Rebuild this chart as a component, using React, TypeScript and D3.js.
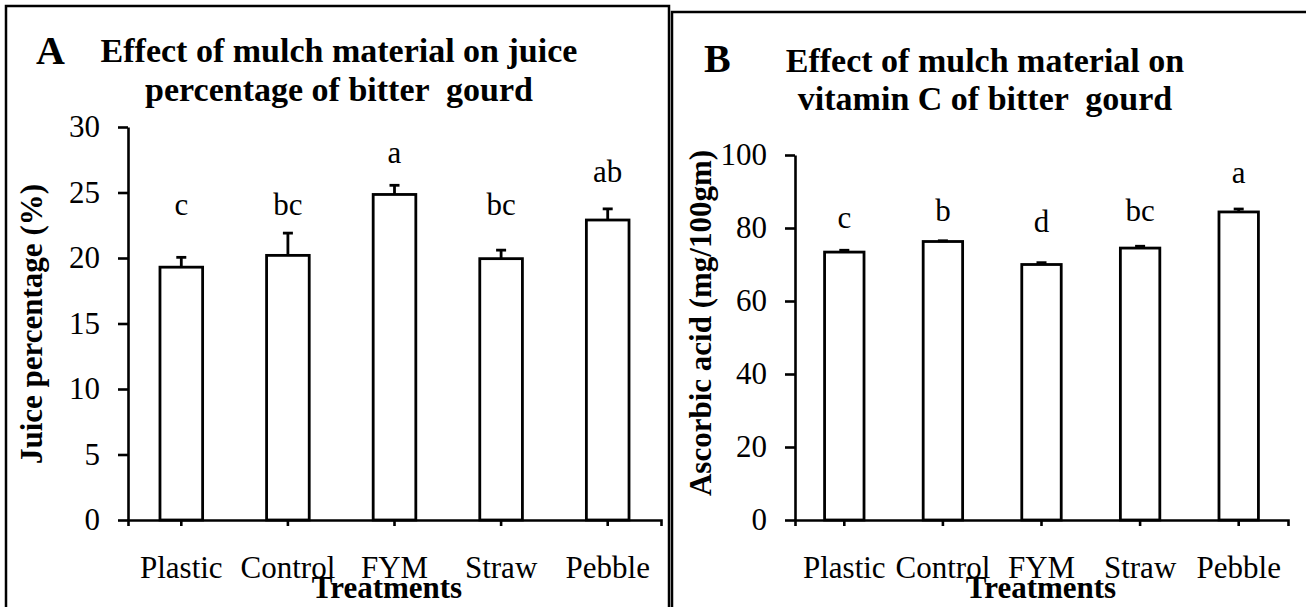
import React, { useEffect, useRef } from 'react';
import * as d3 from 'd3';

const categories = ['Plastic', 'Control', 'FYM', 'Straw', 'Pebble'];

// panel A: juice percentage
const juiceValues = [19.3, 20.2, 24.85, 19.95, 22.9];
const juiceErrors = [0.75, 1.7, 0.7, 0.65, 0.85];
const juiceLetters = ['c', 'bc', 'a', 'bc', 'ab'];
const juiceLetterAt = [23.3, 23.3, 27.25, 23.3, 25.8];
const juiceTicks = [0, 5, 10, 15, 20, 25, 30];

// panel B: vitamin C
const vitCValues = [73.4, 76.3, 70.0, 74.5, 84.4];
const vitCErrors = [0.5, 0.2, 0.5, 0.5, 0.8];
const vitCLetters = ['c', 'b', 'd', 'bc', 'a'];
const vitCLetterAt = [80, 81.8, 78.8, 82, 92.3];
const vitCTicks = [0, 20, 40, 60, 80, 100];

const serif = '"Liberation Serif", "Times New Roman", serif';

type Panel = {
  tag: string;
  tagX: number;
  tagY: number;
  title: [string, string];
  titleX: number;
  titleY: [number, number];
  yLabel: string;
  yLabelX: number;
  yLabelY: number;
  values: number[];
  errors: number[];
  letters: string[];
  letterAt: number[];
  ticks: number[];
  box: [number, number, number, number];
  plot: { left: number; right: number; top: number; bottom: number };
  xLabelX: number;
};

const panels: Panel[] = [
  {
    tag: 'A',
    tagX: 36,
    tagY: 64,
    title: ['Effect of mulch material on juice', 'percentage of bitter  gourd'],
    titleX: 339,
    titleY: [62, 101],
    yLabel: 'Juice percentage (%)',
    yLabelX: 42,
    yLabelY: 324,
    values: juiceValues,
    errors: juiceErrors,
    letters: juiceLetters,
    letterAt: juiceLetterAt,
    ticks: juiceTicks,
    box: [6, 6, 663, 640],
    plot: { left: 128, right: 661, top: 127, bottom: 520 },
    xLabelX: 387,
  },
  {
    tag: 'B',
    tagX: 704,
    tagY: 72,
    title: ['Effect of mulch material on', 'vitamin C of bitter  gourd'],
    titleX: 985,
    titleY: [72, 110],
    yLabel: 'Ascorbic acid (mg/100gm)',
    yLabelX: 711,
    yLabelY: 323,
    values: vitCValues,
    errors: vitCErrors,
    letters: vitCLetters,
    letterAt: vitCLetterAt,
    ticks: vitCTicks,
    box: [672, 12, 660, 640],
    plot: { left: 795, right: 1288, top: 155, bottom: 520 },
    xLabelX: 1041,
  },
];

const App: React.FC = () => {
  const ref = useRef<SVGSVGElement>(null);

  useEffect(() => {
    if (!ref.current) return;
    const svg = d3.select(ref.current);
    svg.selectAll('*').remove();

    panels.forEach(p => {
      const g = svg.append('g');
      const { left, right, top, bottom } = p.plot;

      g.append('rect')
        .attr('x', p.box[0])
        .attr('y', p.box[1])
        .attr('width', p.box[2])
        .attr('height', p.box[3])
        .attr('fill', 'none')
        .attr('stroke', '#000')
        .attr('stroke-width', 2.5);

      const x = d3
        .scaleBand<string>()
        .domain(categories)
        .range([left, right])
        .paddingInner(0.6)
        .paddingOuter(0.3);
      const y = d3
        .scaleLinear()
        .domain([0, d3.max(p.ticks) as number])
        .range([bottom, top]);

      // panel tag and title
      g.append('text')
        .attr('x', p.tagX)
        .attr('y', p.tagY)
        .attr('font-family', serif)
        .attr('font-weight', 'bold')
        .attr('font-size', 40)
        .text(p.tag);
      p.title.forEach((line, i) => {
        g.append('text')
          .attr('x', p.titleX)
          .attr('y', p.titleY[i])
          .attr('text-anchor', 'middle')
          .attr('font-family', serif)
          .attr('font-weight', 'bold')
          .attr('font-size', 34)
          .style('white-space', 'pre')
          .text(line);
      });

      // bars
      g.selectAll('rect.bar')
        .data(p.values)
        .enter()
        .append('rect')
        .attr('class', 'bar')
        .attr('x', (_, i) => x(categories[i]) as number)
        .attr('y', d => y(d))
        .attr('width', x.bandwidth())
        .attr('height', d => bottom - y(d))
        .attr('fill', '#fff')
        .attr('stroke', '#000')
        .attr('stroke-width', 2.8);

      // error bars (upper only)
      const cx = (i: number) => (x(categories[i]) as number) + x.bandwidth() / 2;
      p.values.forEach((v, i) => {
        const e = p.errors[i];
        g.append('line')
          .attr('x1', cx(i))
          .attr('x2', cx(i))
          .attr('y1', y(v))
          .attr('y2', y(v + e))
          .attr('stroke', '#000')
          .attr('stroke-width', 2.8);
        g.append('line')
          .attr('x1', cx(i) - 5)
          .attr('x2', cx(i) + 5)
          .attr('y1', y(v + e))
          .attr('y2', y(v + e))
          .attr('stroke', '#000')
          .attr('stroke-width', 2.8);
      });

      // significance letters
      g.selectAll('text.letter')
        .data(p.letters)
        .enter()
        .append('text')
        .attr('class', 'letter')
        .attr('x', (_, i) => cx(i))
        .attr('y', (_, i) => y(p.letterAt[i]))
        .attr('text-anchor', 'middle')
        .attr('font-family', serif)
        .attr('font-size', 31)
        .text(d => d);

      // y axis
      const yAxis = g
        .append('g')
        .attr('transform', `translate(${left},0)`)
        .call(
          d3
            .axisLeft(y)
            .tickValues(p.ticks)
            .tickSize(10)
            .tickSizeOuter(0)
            .tickPadding(18)
            .tickFormat(d => String(d)),
        );
      yAxis.selectAll('path, line').attr('stroke-width', 2.6);
      yAxis
        .selectAll('text')
        .attr('font-family', serif)
        .attr('font-size', 31)
        .attr('fill', '#000');

      // x axis
      const xAxis = g
        .append('g')
        .attr('transform', `translate(0,${bottom})`)
        .call(d3.axisBottom(x).tickSize(6).tickSizeOuter(6).tickPadding(30));
      xAxis.selectAll('path, line').attr('stroke-width', 2.6);
      xAxis
        .selectAll('text')
        .attr('font-family', serif)
        .attr('font-size', 31)
        .attr('fill', '#000');

      // axis titles
      g.append('text')
        .attr('transform', `translate(${p.yLabelX},${p.yLabelY}) rotate(-90)`)
        .attr('text-anchor', 'middle')
        .attr('font-family', serif)
        .attr('font-weight', 'bold')
        .attr('font-size', 31)
        .text(p.yLabel);

      g.append('text')
        .attr('x', p.xLabelX)
        .attr('y', 598)
        .attr('text-anchor', 'middle')
        .attr('font-family', serif)
        .attr('font-weight', 'bold')
        .attr('font-size', 31)
        .text('Treatments');
    });
  }, []);

  return (
    <svg
      ref={ref}
      width={1306}
      height={607}
      style={{ position: 'absolute', left: 0, top: 0, background: '#fff' }}
    />
  );
};

export default App;
